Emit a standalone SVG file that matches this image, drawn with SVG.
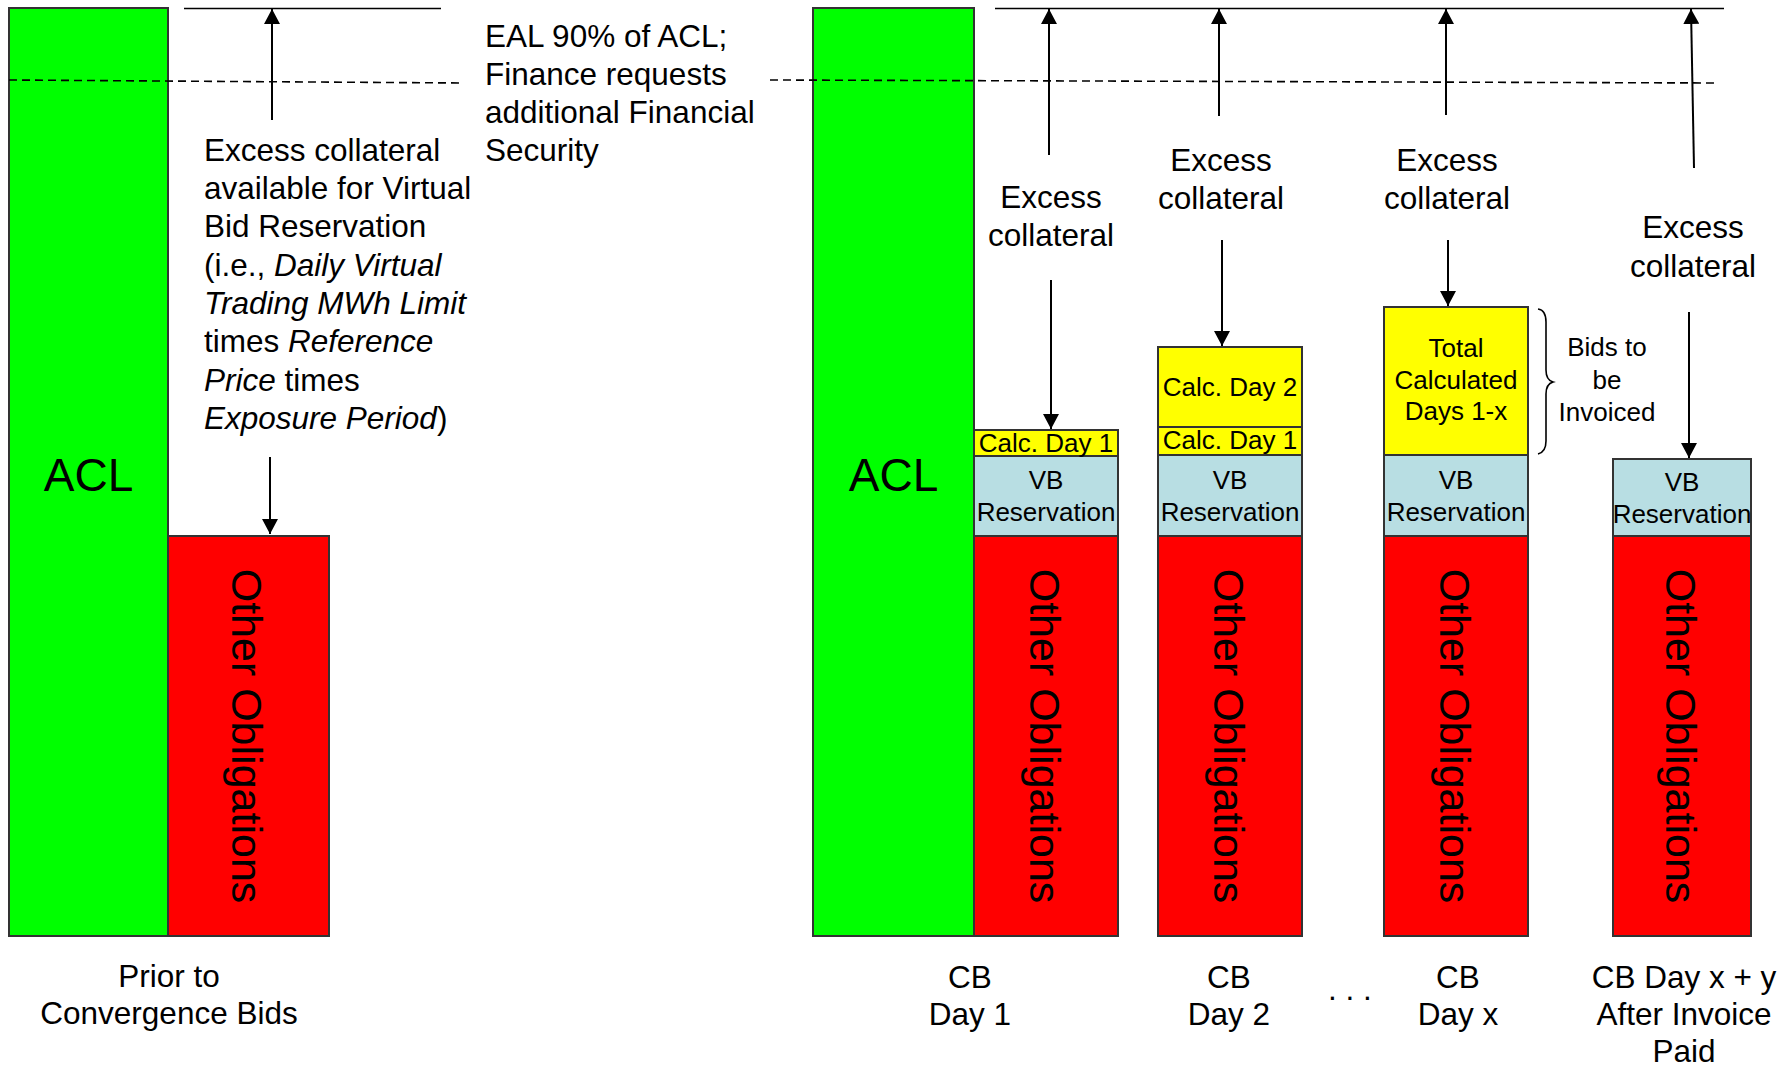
<svg xmlns="http://www.w3.org/2000/svg" width="1790" height="1068" viewBox="0 0 1790 1068">
<style>
text{font-family:"Liberation Sans",Arial,sans-serif;fill:#000}
.box{stroke:#333;stroke-width:2}
.g{fill:#00ff00}
.r{fill:#ff0000}
.y{fill:#ffff00}
.b{fill:#b8dee3}
.big{font-size:46px}
.t{font-size:31.5px}
.s{font-size:26px}
.c{text-anchor:middle}
.oo{font-size:43px;text-anchor:middle}
.ln{stroke:#000;stroke-width:1.6;fill:none}
.dash{stroke:#000;stroke-width:1.6;stroke-dasharray:8 5;fill:none}
.arr{stroke:#000;stroke-width:2;fill:none;marker-end:url(#ah)}
</style>
<defs>
<marker id="ah" markerUnits="userSpaceOnUse" markerWidth="16" markerHeight="16" refX="15" refY="8" orient="auto">
<path d="M0,0 L15,8 L0,16 z" fill="#000"/>
</marker>
</defs>
<rect width="1790" height="1068" fill="#fff"/>

<g id="panel-prior">
<rect class="box g" x="9" y="8" width="159" height="928"/>
<rect class="box r" x="168" y="536" width="161" height="400"/>
<text class="big c" x="88.5" y="491">ACL</text>
<text class="oo" transform="translate(232,736) rotate(90)">Other Obligations</text>
</g>

<g id="panel-day1">
<rect class="box g" x="813" y="8" width="161" height="928"/>
<rect class="box r" x="974" y="536" width="144" height="400"/>
<rect class="box b" x="974" y="456" width="144" height="80"/>
<rect class="box y" x="974" y="430" width="144" height="26"/>
<text class="big c" x="893.5" y="491">ACL</text>
<text class="s c" x="1046" y="452">Calc. Day 1</text>
<text class="s c" x="1046" y="489">VB</text>
<text class="s c" x="1046" y="521">Reservation</text>
<text class="oo" transform="translate(1030,736) rotate(90)">Other Obligations</text>
</g>

<g id="panel-day2">
<rect class="box r" x="1158" y="536" width="144" height="400"/>
<rect class="box b" x="1158" y="455" width="144" height="81"/>
<rect class="box y" x="1158" y="427" width="144" height="28"/>
<rect class="box y" x="1158" y="347" width="144" height="80"/>
<text class="s c" x="1230" y="396">Calc. Day 2</text>
<text class="s c" x="1230" y="449">Calc. Day 1</text>
<text class="s c" x="1230" y="489">VB</text>
<text class="s c" x="1230" y="521">Reservation</text>
<text class="oo" transform="translate(1214,736) rotate(90)">Other Obligations</text>
</g>

<g id="panel-dayx">
<rect class="box r" x="1384" y="536" width="144" height="400"/>
<rect class="box b" x="1384" y="455" width="144" height="81"/>
<rect class="box y" x="1384" y="307" width="144" height="148"/>
<text class="s c" x="1456" y="357">Total</text>
<text class="s c" x="1456" y="389">Calculated</text>
<text class="s c" x="1456" y="420">Days 1-x</text>
<text class="s c" x="1456" y="489">VB</text>
<text class="s c" x="1456" y="521">Reservation</text>
<text class="oo" transform="translate(1440,736) rotate(90)">Other Obligations</text>
</g>

<g id="panel-dayxy">
<rect class="box r" x="1613" y="536" width="138" height="400"/>
<rect class="box b" x="1613" y="459" width="138" height="77"/>
<text class="s c" x="1682" y="491">VB</text>
<text class="s c" x="1682" y="523">Reservation</text>
<text class="oo" transform="translate(1666,736) rotate(90)">Other Obligations</text>
</g>

<g id="brace">
<path class="ln" d="M1538,309 Q1546,310 1546,322 L1546,370 Q1546,380 1553,382 Q1546,384 1546,394 L1546,441 Q1546,452 1538,454"/>
<text class="s c" x="1607" y="356">Bids to</text>
<text class="s c" x="1607" y="389">be</text>
<text class="s c" x="1607" y="421">Invoiced</text>
</g>

<g id="labels">
<text class="t" x="204" y="161">Excess collateral</text>
<text class="t" x="204" y="199">available for Virtual</text>
<text class="t" x="204" y="237">Bid Reservation</text>
<text class="t" x="204" y="276">(i.e., <tspan font-style="italic">Daily Virtual</tspan></text>
<text class="t" x="204" y="314" font-style="italic">Trading MWh Limit</text>
<text class="t" x="204" y="352">times <tspan font-style="italic">Reference</tspan></text>
<text class="t" x="204" y="391"><tspan font-style="italic">Price</tspan> times</text>
<text class="t" x="204" y="429"><tspan font-style="italic">Exposure Period</tspan>)</text>

<text class="t" x="485" y="47">EAL 90% of ACL;</text>
<text class="t" x="485" y="85">Finance requests</text>
<text class="t" x="485" y="123">additional Financial</text>
<text class="t" x="485" y="161">Security</text>

<text class="t c" x="1051" y="208">Excess</text>
<text class="t c" x="1051" y="246">collateral</text>
<text class="t c" x="1221" y="171">Excess</text>
<text class="t c" x="1221" y="209">collateral</text>
<text class="t c" x="1447" y="171">Excess</text>
<text class="t c" x="1447" y="209">collateral</text>
<text class="t c" x="1693" y="238">Excess</text>
<text class="t c" x="1693" y="277">collateral</text>

<text class="t c" x="169" y="987">Prior to</text>
<text class="t c" x="169" y="1024">Convergence Bids</text>
<text class="t c" x="970" y="988">CB</text>
<text class="t c" x="970" y="1025">Day 1</text>
<text class="t c" x="1229" y="988">CB</text>
<text class="t c" x="1229" y="1025">Day 2</text>
<text class="t c" x="1350" y="1000">. . .</text>
<text class="t c" x="1458" y="988">CB</text>
<text class="t c" x="1458" y="1025">Day x</text>
<text class="t c" x="1684" y="988">CB Day x + y</text>
<text class="t c" x="1684" y="1025">After Invoice</text>
<text class="t c" x="1684" y="1062">Paid</text>
</g>

<g id="connectors">
<line class="ln" x1="184" y1="8.5" x2="441" y2="8.5"/>
<line class="ln" x1="995" y1="8.5" x2="1724" y2="8.5"/>
<line class="dash" x1="9" y1="80" x2="463" y2="83"/>
<line class="dash" x1="770" y1="80" x2="1717" y2="83"/>
<line class="arr" x1="272" y1="120" x2="272" y2="9"/>
<line class="arr" x1="270" y1="457" x2="270" y2="534"/>
<line class="arr" x1="1049" y1="155" x2="1049" y2="9"/>
<line class="arr" x1="1051" y1="280" x2="1051" y2="429"/>
<line class="arr" x1="1219" y1="116" x2="1219" y2="9"/>
<line class="arr" x1="1222" y1="240" x2="1222" y2="346"/>
<line class="arr" x1="1446" y1="115" x2="1446" y2="9"/>
<line class="arr" x1="1448" y1="240" x2="1448" y2="306"/>
<line class="arr" x1="1694" y1="168" x2="1691" y2="9"/>
<line class="arr" x1="1689" y1="312" x2="1689" y2="458"/>
</g>
</svg>
